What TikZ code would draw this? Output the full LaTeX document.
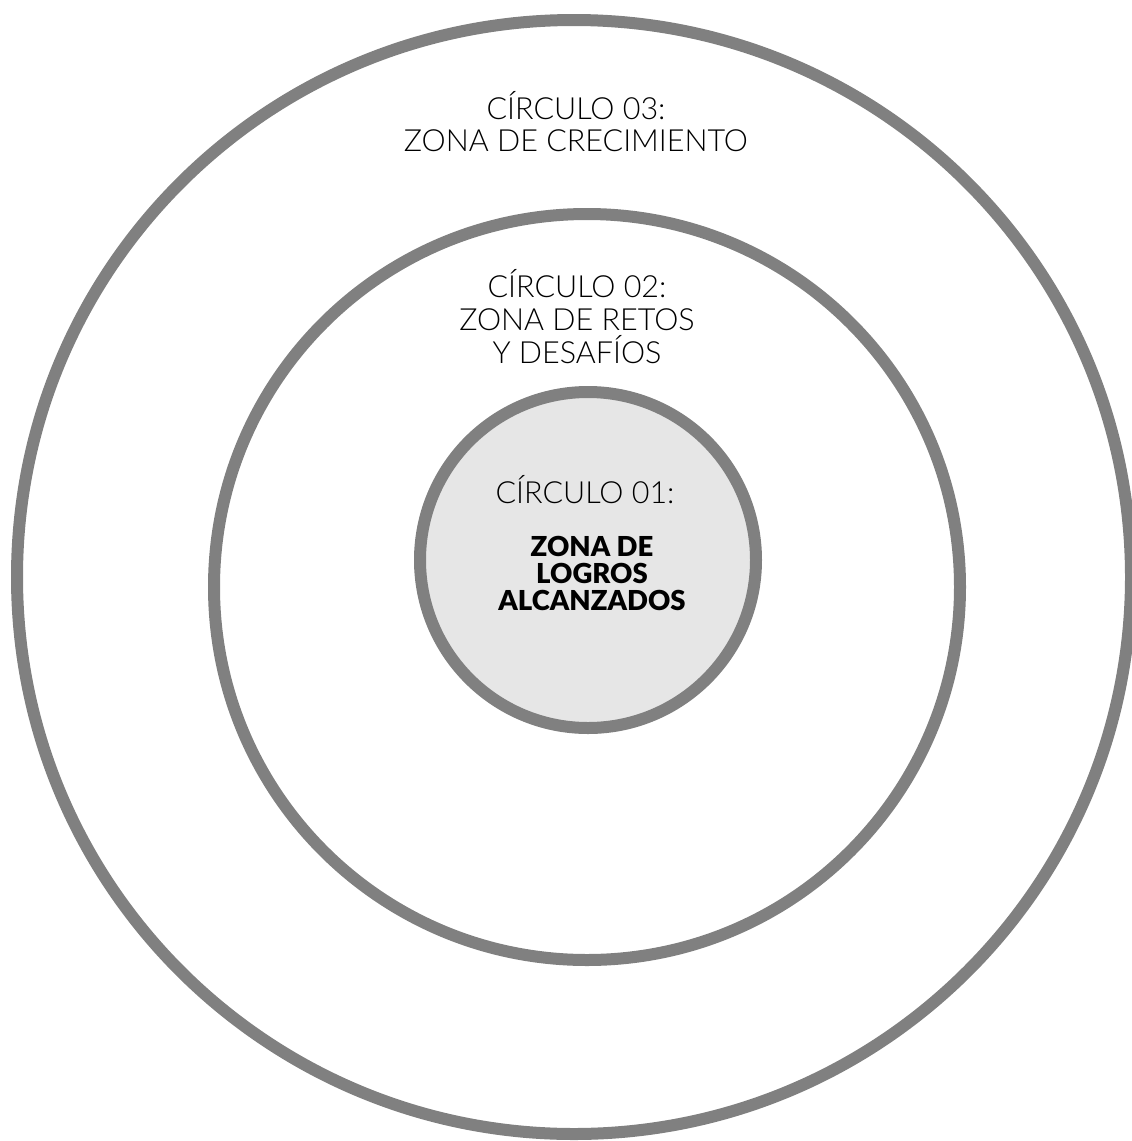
\documentclass[tikz,border=0pt]{standalone}
\usepackage{fontspec}
\setmainfont{Lato}[UprightFont=* Light, BoldFont=* Black]
\definecolor{ringgray}{HTML}{808080}
\definecolor{corefill}{HTML}{E6E6E6}
\begin{document}
\begin{tikzpicture}[x=1pt, y=-1pt]
  \useasboundingbox (0,0) rectangle (1132,1141);
  % Rings
  \begin{scope}[every node/.style={draw=ringgray, shape=circle, line width=12pt, inner sep=0pt}]
    \node[minimum size=1114pt] (ring3) at (574,577) {};
    \node[minimum size=746pt] (ring2) at (587,587) {};
    \node[minimum size=336pt, fill=corefill] (ring1) at (588,560) {};
  \end{scope}

  % Labels (base = last line)
  \begin{scope}[every node/.style={align=center, anchor=base, inner sep=0pt}]
    \node[font=\fontsize{30.5}{32}\selectfont] (label3) at (576,151) {CÍRCULO 03:\\ZONA DE CRECIMIENTO};
    \node[font=\fontsize{30.5}{33}\selectfont] (label2) at (577,363) {CÍRCULO 02:\\ZONA DE RETOS\\Y DESAFÍOS};
    \node[font=\fontsize{30.5}{32}\selectfont] (label1) at (585,503) {CÍRCULO 01:};
    \node[font=\fontsize{27.5}{26.8}\selectfont\bfseries] (core) at (592,610) {ZONA DE\\LOGROS\\ALCANZADOS};
  \end{scope}
\end{tikzpicture}
\end{document}
